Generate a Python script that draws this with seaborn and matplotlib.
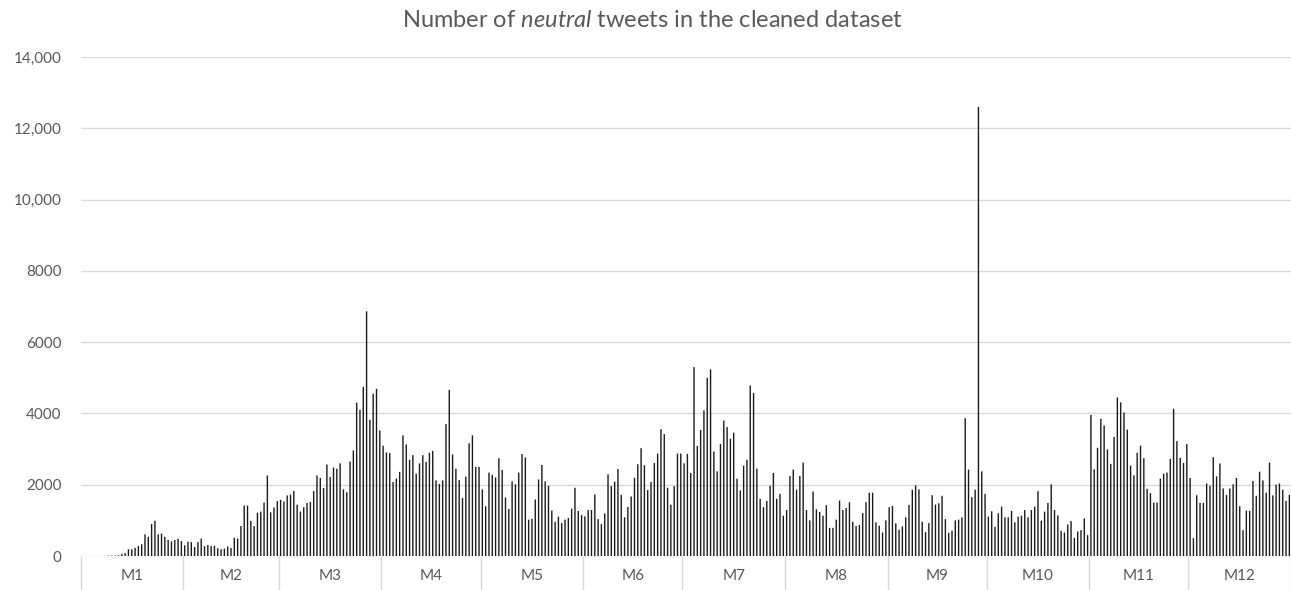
import matplotlib.pyplot as plt
import numpy as np
import pandas as pd
import seaborn as sns

# daily counts of neutral tweets, one list per month (leap year, 366 days)
months = ["M1", "M2", "M3", "M4", "M5", "M6", "M7", "M8", "M9", "M10", "M11", "M12"]

m1 = [0, 0, 0, 0, 0, 0, 0, 0, 10, 10, 15, 20, 60, 80, 190, 190, 230, 280, 330, 610,
      540, 900, 990, 610, 630, 540, 450, 410, 450, 480, 420]
m2 = [300, 405, 390, 255, 390, 490, 275, 310, 275, 285, 215, 190, 210, 265, 225, 510,
      490, 840, 1415, 1415, 990, 840, 1215, 1245, 1500, 2260, 1225, 1360, 1540]
m3 = [1575, 1530, 1700, 1725, 1830, 1440, 1245, 1370, 1490, 1520, 1820, 2260, 2190,
      1905, 2565, 2215, 2480, 2450, 2600, 1870, 1790, 2650, 2960, 4300, 4100, 4745,
      6865, 3820, 4555, 4690, 3525]
m4 = [3095, 2905, 2885, 2075, 2170, 2360, 3385, 3130, 2700, 2830, 2310, 2600, 2830,
      2640, 2895, 2950, 2120, 2020, 2120, 3700, 4660, 2850, 2450, 2130, 1630, 2225,
      3160, 3385, 2500, 2500]
m5 = [1870, 1395, 2340, 2280, 2205, 2745, 2415, 1640, 1320, 2095, 2010, 2340, 2860,
      2765, 1020, 1045, 1585, 2150, 2555, 2095, 1970, 1275, 960, 1105, 925, 1020, 1065,
      1330, 1915, 1265, 1150]
m6 = [1110, 1290, 1290, 1725, 1035, 895, 1195, 2290, 1960, 2085, 2440, 1715, 1085,
      1375, 1670, 2195, 2575, 3025, 2545, 1850, 2075, 2610, 2875, 3555, 3420, 1915,
      1440, 1960, 2875, 2875]
m7 = [2600, 2865, 2330, 5300, 3090, 3535, 4085, 5000, 5235, 2930, 2375, 3140, 3800,
      3620, 3290, 3460, 2170, 1840, 2535, 2700, 4780, 4575, 2450, 1605, 1375, 1545,
      1970, 2330, 1605, 1745, 1130]
m8 = [1290, 2245, 2425, 1860, 2245, 2620, 1290, 1000, 1810, 1310, 1235, 1130, 1425,
      790, 790, 1020, 1555, 1290, 1345, 1510, 960, 840, 870, 1205, 1510, 1775, 1775,
      945, 850, 660, 1000]
m9 = [1370, 1405, 915, 735, 830, 1085, 1435, 1860, 1980, 1870, 960, 670, 925, 1705,
      1445, 1480, 1690, 1035, 650, 710, 1000, 1020, 1085, 3865, 2425, 1650, 1860,
      12600, 2375, 1745]
m10 = [1105, 1255, 820, 1200, 1385, 1085, 1085, 1265, 945, 1105, 1130, 1290, 1085,
       1290, 1385, 1820, 990, 1245, 1490, 2010, 1290, 1140, 710, 660, 885, 980, 510,
       690, 725, 1055, 585]
m11 = [3960, 2435, 3035, 3850, 3660, 2990, 2585, 3340, 4450, 4310, 4025, 3545, 2535,
       2265, 2895, 3095, 2745, 1885, 1765, 1500, 1500, 2170, 2310, 2340, 2725, 4130,
       3225, 2755, 2610, 3140]
m12 = [2190, 500, 1705, 1490, 1490, 2035, 1970, 2770, 2235, 2595, 1895, 1715, 1895,
       2010, 2190, 1395, 725, 1275, 1265, 2105, 1690, 2365, 2120, 1775, 2620, 1700,
       2000, 2035, 1860, 1545, 1715]

y_ticks = [0, 2000, 4000, 6000, 8000, 10000, 12000, 14000]
y_labels = ["0", "2000", "4000", "6000", "8000", "10,000", "12,000", "14,000"]

month_values = [m1, m2, m3, m4, m5, m6, m7, m8, m9, m10, m11, m12]
counts = [v for m in month_values for v in m]
df = pd.DataFrame({"day": range(len(counts)), "count": counts})

sns.set_theme(style="white")
plt.rcParams["font.family"] = ["Lato", "DejaVu Sans"]
plt.rcParams["mathtext.fontset"] = "custom"
plt.rcParams["mathtext.rm"] = "Lato"
plt.rcParams["mathtext.it"] = "Lato:italic"

text_col = "#595959"
grid_col = "#d9d9d9"

fig = plt.figure(figsize=(12.91, 5.90), dpi=100)
ax = fig.add_axes([80.5 / 1291, 34 / 590, 1 - 80.5 / 1291, 499 / 590])

sns.barplot(data=df, x="day", y="count", color="#1a1a1a", saturation=1,
            width=0.42, errorbar=None, linewidth=0, edgecolor="none", ax=ax)
# thin bars: let antialiasing draw them instead of snapping them away
for p in ax.patches:
    p.set_snap(False)

ax.set_xlim(-0.5, len(counts) - 0.5)
ax.set_ylim(0, 14000)
ax.set_axisbelow(True)
ax.yaxis.grid(True, color=grid_col, lw=1)
for s in ax.spines.values():
    s.set_visible(False)

ax.set_yticks(y_ticks)
ax.set_yticklabels(y_labels)
ax.tick_params(axis="y", length=0, pad=13.5, labelsize=11, labelcolor=text_col)

# month labels and separators of the category axis
sizes = [len(m) for m in month_values]
bounds = np.concatenate([[0], np.cumsum(sizes)]) - 0.5
centers = (bounds[:-1] + bounds[1:]) / 2
ax.set_xticks(centers)
ax.set_xticklabels(months)
ax.tick_params(axis="x", length=0, pad=9, labelsize=11, labelcolor=text_col)
ax.vlines(bounds, -0.07, 0, transform=ax.get_xaxis_transform(), color=grid_col,
          lw=1, clip_on=False)
ax.set_xlabel("")
ax.set_ylabel("")

fig.text(0.505, 0.966, r"Number of $\it{neutral}$ tweets in the cleaned dataset",
         ha="center", va="center", fontsize=17, color=text_col)

fig.savefig("out.png", dpi=100)
